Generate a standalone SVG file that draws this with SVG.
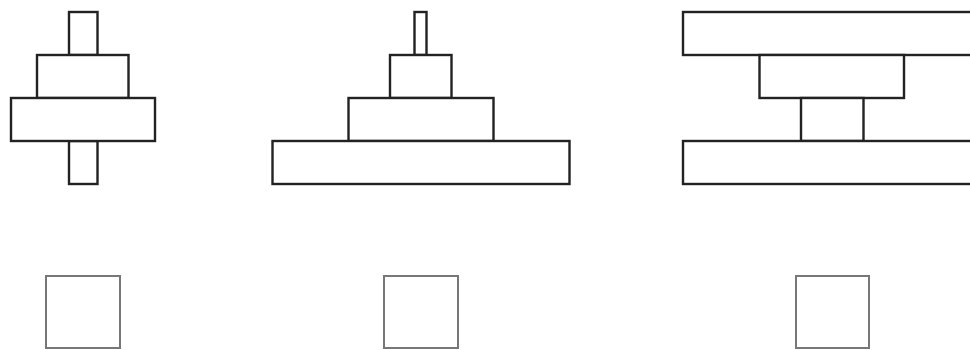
<svg xmlns="http://www.w3.org/2000/svg" width="970" height="350" viewBox="0 0 970 350">
<style>
.b{fill:#fff;stroke:#222;stroke-width:2.4}
.s{fill:#fff;stroke:#777;stroke-width:2}
</style>
<rect width="970" height="350" fill="#fff"/>
<g id="stack1">
<rect class="b" x="69" y="12" width="28.5" height="43"/>
<rect class="b" x="69" y="141" width="28.5" height="43"/>
<rect class="b" x="37" y="55" width="91.5" height="43"/>
<rect class="b" x="11" y="98" width="144" height="43"/>
</g>
<g id="stack2">
<rect class="b" x="414.5" y="12" width="12" height="43"/>
<rect class="b" x="390" y="55" width="61.5" height="43"/>
<rect class="b" x="348.5" y="98" width="145" height="43"/>
<rect class="b" x="272.5" y="141" width="297" height="43"/>
</g>
<g id="stack3">
<rect class="b" x="683" y="12" width="300" height="43"/>
<rect class="b" x="759.5" y="55" width="144.5" height="43"/>
<rect class="b" x="801" y="98" width="62.5" height="43"/>
<rect class="b" x="683" y="141" width="300" height="43"/>
</g>
<g id="square1"><rect class="s" x="46" y="276" width="74" height="72"/></g>
<g id="square2"><rect class="s" x="384" y="276" width="74" height="72"/></g>
<g id="square3"><rect class="s" x="796" y="276" width="73" height="72"/></g>
</svg>
